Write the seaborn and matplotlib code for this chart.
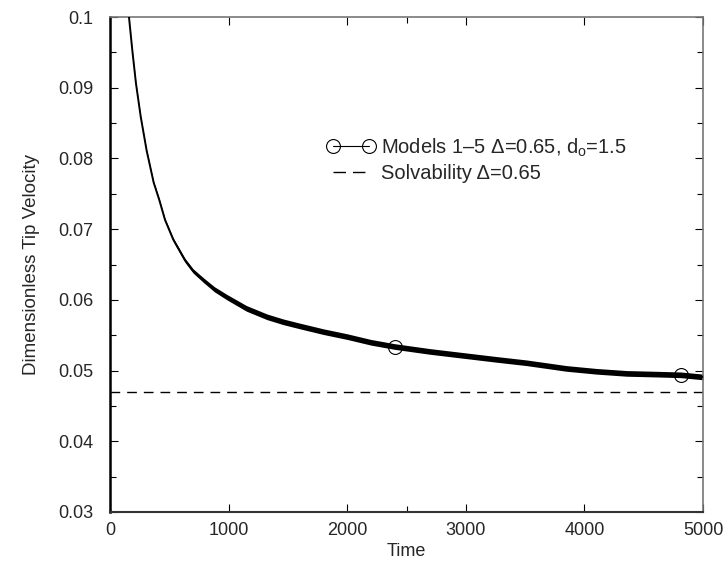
import matplotlib
matplotlib.use("Agg")
import matplotlib.pyplot as plt
import seaborn as sns
import numpy as np
import pandas as pd
from matplotlib.ticker import FixedLocator, MultipleLocator

# Data
time = [160, 188, 219, 259, 309, 368, 416, 464, 534, 632, 700, 787, 880, 984, 1150, 1324,
        1460, 1602, 1800, 2000, 2200, 2400, 2700, 3000, 3250, 3513, 3850, 4100, 4357, 4600,
        4812, 5000]
velocity = [0.1, 0.0953, 0.0906, 0.0859, 0.0811, 0.0766, 0.0741, 0.0713, 0.0685, 0.0656,
            0.0641, 0.0628, 0.0615, 0.0604, 0.0588, 0.0576, 0.0569, 0.0563, 0.0555, 0.0548,
            0.0540, 0.0534, 0.0527, 0.0521, 0.0516, 0.0511, 0.0503, 0.0499, 0.0496, 0.0495,
            0.0494, 0.0491]
# apparent half-width of the noisy band at each time
band = [0.00006, 0.00008, 0.0001, 0.0001, 0.00012, 0.00015, 0.00018, 0.0002, 0.00024,
        0.00028, 0.0003, 0.00033, 0.00036, 0.00038, 0.0004, 0.0004, 0.0004, 0.0004, 0.0004,
        0.0004, 0.0004, 0.0004, 0.0004, 0.0004, 0.0004, 0.0004, 0.0004, 0.0004, 0.0004,
        0.0004, 0.0004, 0.0004]
marker_time = [2400, 4812]
marker_velocity = [0.0533, 0.0494]
solvability = 0.047

x_ticks = [0, 1000, 2000, 3000, 4000, 5000]
y_ticks = [0.03, 0.04, 0.05, 0.06, 0.07, 0.08, 0.09, 0.1]
y_ticklabels = ["0.03", "0.04", "0.05", "0.06", "0.07", "0.08", "0.09", "0.1"]

sns.set_style("ticks")
plt.rcParams["font.family"] = ["Liberation Sans", "DejaVu Sans"]
plt.rcParams["mathtext.fontset"] = "custom"
plt.rcParams["mathtext.rm"] = "Liberation Sans"
plt.rcParams["mathtext.it"] = "Liberation Sans"

fig = plt.figure(figsize=(7.28, 5.68), dpi=100)
ax = fig.add_axes([110 / 728, 1 - 512 / 568, 593 / 728, 495 / 568])

df = pd.DataFrame({"Time": time, "Velocity": velocity})
t = np.array(time)
v = np.array(velocity)
b = np.array(band)
ax.fill_between(t, v - b, v + b, color="black", lw=0, zorder=2)
sns.lineplot(data=df, x="Time", y="Velocity", ax=ax, color="black", lw=1.4, zorder=3)
ax.plot(marker_time, marker_velocity, ls="none", marker="o", ms=10, mfc="none",
        mec="black", mew=0.8, zorder=4)
ax.axhline(solvability, color="black", lw=1.0, dashes=(7, 5), zorder=2)

# legend handles
h1, = ax.plot([], [], color="black", lw=0.8, marker="o", ms=10, mfc="none", mec="black", mew=0.8)
h2, = ax.plot([], [], color="black", lw=1.0, dashes=(9, 5))
leg = ax.legend([h1, h2], ["Models 1\u20135 \u0394=0.65, d$_\\mathregular{o}$=1.5",
                           "Solvability \u0394=0.65"],
                loc="upper left", bbox_to_anchor=(0.352, 0.775), frameon=False,
                fontsize=14.5, handlelength=2.4, handletextpad=0.3, numpoints=2,
                labelspacing=0.25, borderaxespad=0)

ax.set_xlim(0, 5000)
ax.set_ylim(0.03, 0.1)
ax.set_xticks(x_ticks)
ax.set_yticks(y_ticks)
ax.set_yticklabels(y_ticklabels)
ax.xaxis.set_minor_locator(FixedLocator([2500]))
ax.yaxis.set_minor_locator(MultipleLocator(0.005))
ax.tick_params(which="both", direction="in", top=True, right=True, labelsize=13,
               color="black")
ax.tick_params(axis="y", which="both", pad=12)
ax.tick_params(axis="x", which="both", pad=7)
ax.tick_params(which="major", length=6, width=0.8)
ax.tick_params(which="minor", length=4, width=0.8)
ax.set_xlabel("Time", fontsize=13, labelpad=3)
ax.set_ylabel("Dimensionless Tip Velocity", fontsize=13.5, labelpad=13)

for side in ["top", "right"]:
    ax.spines[side].set_color("#777777")
    ax.spines[side].set_linewidth(1.2)
ax.spines["left"].set_color("black")
ax.spines["left"].set_linewidth(1.8)
ax.spines["bottom"].set_color("#333333")
ax.spines["bottom"].set_linewidth(1.5)

fig.savefig("out.png", dpi=100)
